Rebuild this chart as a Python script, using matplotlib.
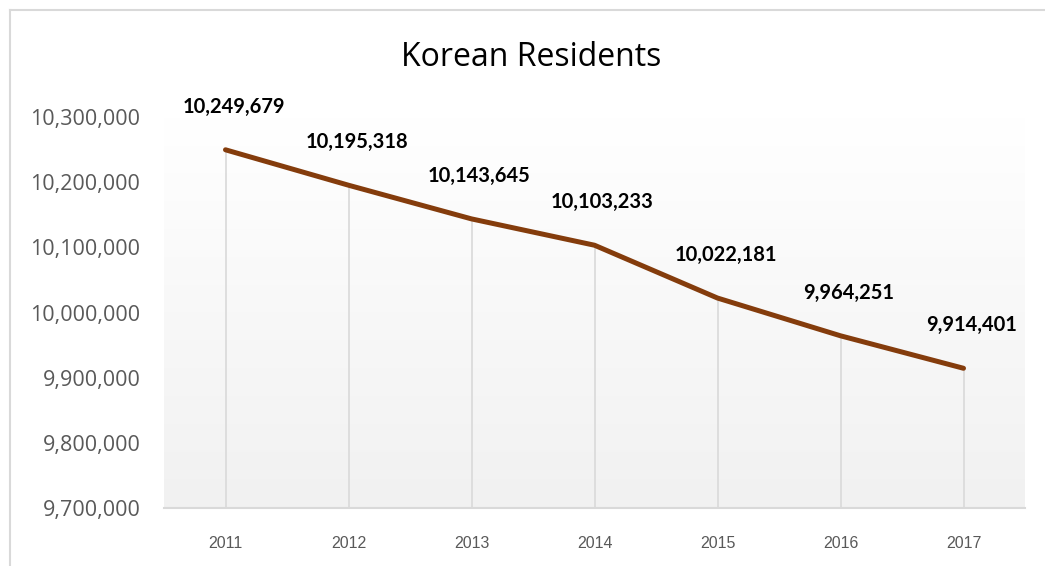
import numpy as np
import matplotlib
matplotlib.use("Agg")
import matplotlib.pyplot as plt
from matplotlib.colors import LinearSegmentedColormap
from matplotlib.lines import Line2D
from matplotlib.ticker import FuncFormatter

years = ["2011", "2012", "2013", "2014", "2015", "2016", "2017"]
residents = [10249679, 10195318, 10143645, 10103233, 10022181, 9964251, 9914401]
y_ticks = [9700000, 9800000, 9900000, 10000000, 10100000, 10200000, 10300000]

W, H = 1045, 566
fig = plt.figure(figsize=(W / 100, H / 100), dpi=100)
ax = fig.add_axes([164 / W, 1 - 508 / H, (1025 - 164) / W, (508 - 117) / H])

x = np.arange(len(years))
ymin, ymax = 9700000, 10300000
ax.set_xlim(-0.5, len(years) - 0.5)
ax.set_ylim(ymin, ymax)

# soft vertical gradient behind the plot
grad = np.linspace(1, 0, 256).reshape(-1, 1)
cmap = LinearSegmentedColormap.from_list("bg", ["#f1f1f1", "#ffffff"])
ax.imshow(grad, aspect="auto", cmap=cmap, extent=(-0.5, len(years) - 0.5, ymin, ymax),
          origin="upper", zorder=0, vmin=0, vmax=1)

# drop lines from each point to the axis
ax.vlines(x, ymin, residents, color="#d9d9d9", lw=1.2, zorder=1)
ax.plot(x, residents, color="#843c0c", lw=3.6, solid_capstyle="round", zorder=3)

for xi, v in zip(x, residents):
    ax.annotate(f"{v:,}", (xi, v), xytext=(8, 43), textcoords="offset pixels",
                ha="center", va="center", fontsize=14.5, fontweight="bold",
                family="Lato", color="black", zorder=4)

for s in ["top", "right", "left"]:
    ax.spines[s].set_visible(False)
ax.spines["bottom"].set_color("#d9d9d9")
ax.spines["bottom"].set_linewidth(1.5)

ax.set_yticks(y_ticks)
ax.yaxis.set_major_formatter(FuncFormatter(lambda v, p: f"{int(v):,}"))
ax.tick_params(axis="y", length=0, pad=17, labelsize=15.5, labelcolor="#595959")
for t in ax.get_yticklabels():
    t.set_family("Open Sans")

ax.set_xticks(x)
ax.set_xticklabels(years)
ax.tick_params(axis="x", length=0, pad=20, labelsize=11.5, labelcolor="#595959")
for t in ax.get_xticklabels():
    t.set_family("Liberation Sans")

fig.text(531 / W, 1 - 57 / H, "Korean Residents", ha="center", va="center",
         fontsize=23, family="Open Sans", color="black")

# chart border (left and top edges)
fig.add_artist(Line2D([10 / W, 10 / W], [0, 1 - 10 / H], color="#d9d9d9", lw=1.5,
                      transform=fig.transFigure))
fig.add_artist(Line2D([10 / W, 1], [1 - 10 / H, 1 - 10 / H], color="#d9d9d9", lw=1.5,
                      transform=fig.transFigure))

fig.savefig("out.png", dpi=100)
